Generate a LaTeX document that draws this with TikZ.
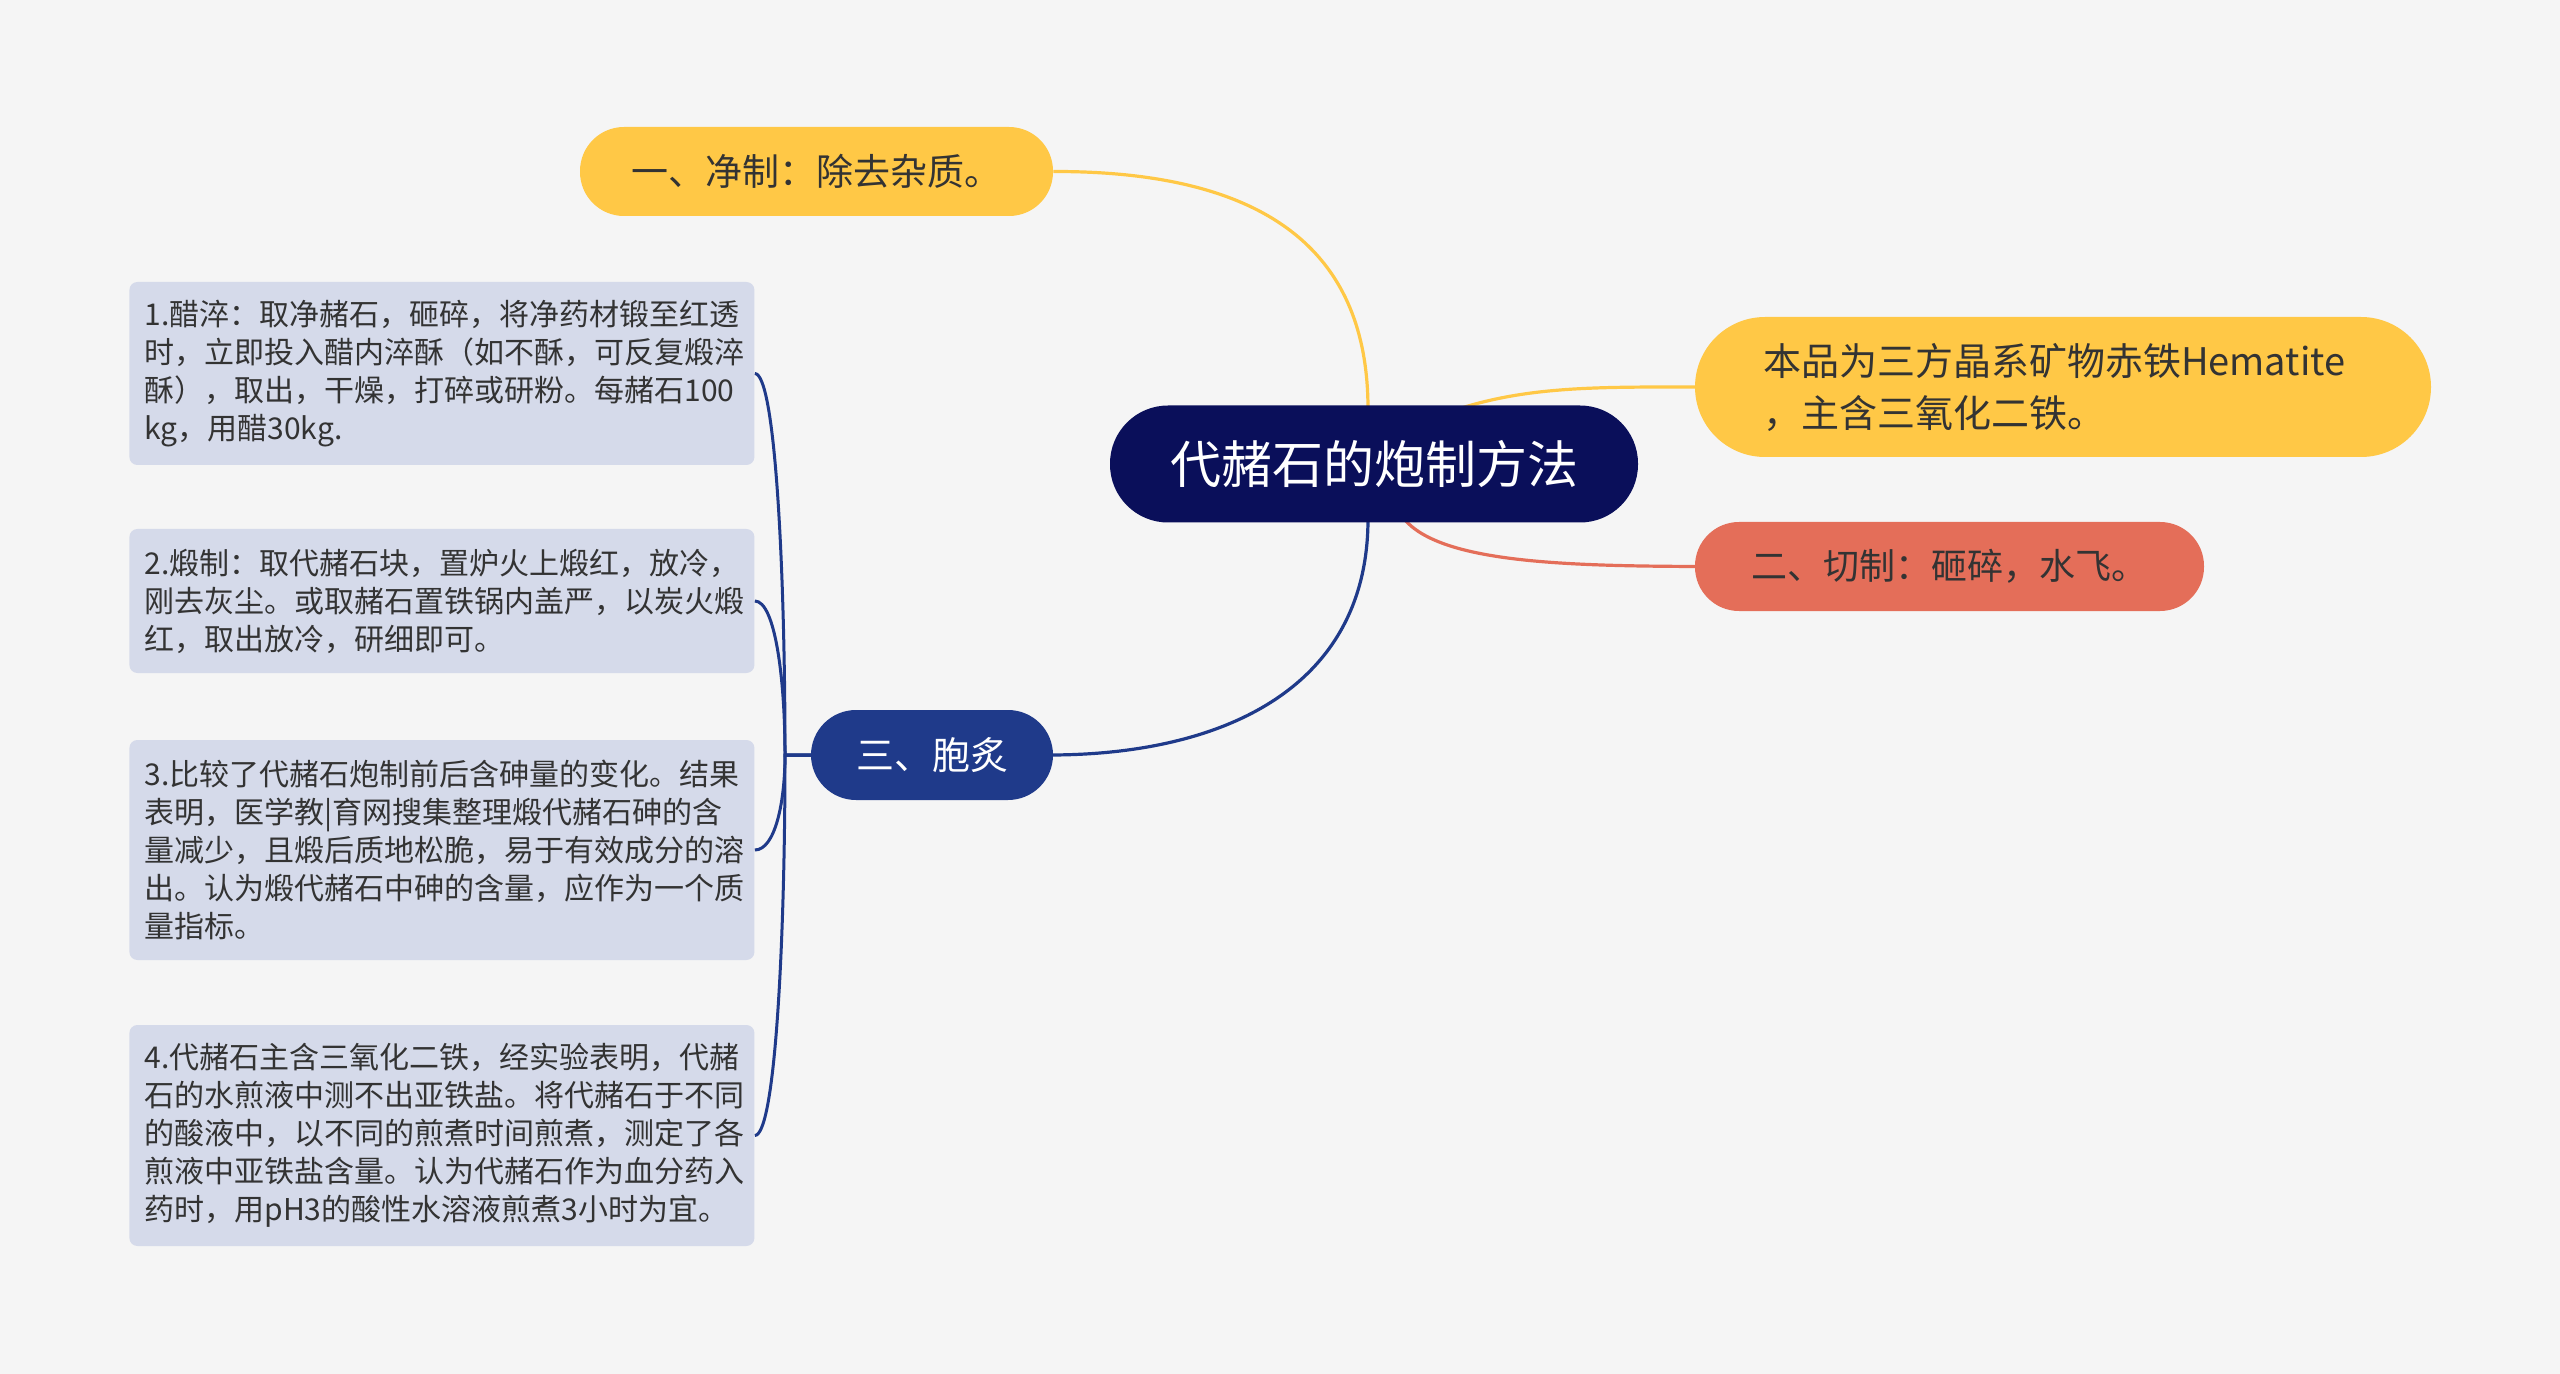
\documentclass[tikz,border=0pt]{standalone}
\usepackage{fontspec}
\setmainfont{Noto Sans CJK SC}
\usetikzlibrary{calc}
\definecolor{bgc}{HTML}{F5F5F5}
\definecolor{navy}{HTML}{0A0F5A}
\definecolor{yel}{HTML}{FFC846}
\definecolor{redc}{HTML}{E46E59}
\definecolor{blu}{HTML}{1F3A8A}
\definecolor{boxc}{HTML}{D5DAEA}
\definecolor{txt}{HTML}{333333}
\pgfdeclarelayer{bg}
\pgfsetlayers{bg,main}
\begin{document}
\begin{tikzpicture}[x=0.5pt,y=-0.5pt,
  pill/.style={rounded corners=#1, inner sep=0pt, align=center},
  leaf/.style={fill=boxc, rounded corners=4pt, minimum width=312.5pt, inner xsep=7.5pt, inner ysep=0pt,
    text width=297.5pt, align=left, text=txt, font=\fontsize{15pt}{19pt}\selectfont, anchor=west},
  conn/.style={line width=1.6pt}
]
\begin{pgfonlayer}{bg}
\fill[bgc] (0,0) rectangle (2560,1374);
\end{pgfonlayer}

\node[pill=29pt, fill=navy, text=white, minimum width=264pt, minimum height=58.5pt,
  font=\fontsize{25.5pt}{30pt}\selectfont] (center) at (1374,464) {代赭石的炮制方法};

\node[pill=22pt, fill=yel, text=txt, minimum width=236.5pt, minimum height=44.5pt,
  font=\fontsize{18.5pt}{22pt}\selectfont] (n1) at (816.5,171.5) {一、净制：除去杂质。};

\node[pill=35pt, fill=yel, text=txt, minimum width=368pt, minimum height=70pt, inner xsep=34pt,
  text width=300pt, align=left, font=\fontsize{19pt}{26pt}\selectfont] (nr1) at (2063,387)
  {本品为三方晶系矿物赤铁Hematite\\，主含三氧化二铁。};

\node[pill=22pt, fill=redc, text=txt, minimum width=254.5pt, minimum height=44.5pt,
  font=\fontsize{18pt}{22pt}\selectfont] (nr2) at (1949.5,566.5) {二、切制：砸碎，水飞。};

\node[pill=22.5pt, fill=blu, text=white, minimum width=121pt, minimum height=45pt,
  font=\fontsize{19pt}{22pt}\selectfont] (n3) at (932,755) {三、胞炙};

\node[leaf, minimum height=91.5pt] (b1) at (129,373.5)
  {1.醋淬：取净赭石，砸碎，将净药材锻至红透\\时，立即投入醋内淬酥（如不酥，可反复煅淬\\酥），取出，干燥，打碎或研粉。每赭石100\\kg，用醋30kg.};
\node[leaf, minimum height=72pt] (b2) at (129,601)
  {2.煅制：取代赭石块，置炉火上煅红，放冷，\\刚去灰尘。或取赭石置铁锅内盖严，以炭火煅\\红，取出放冷，研细即可。};
\node[leaf, minimum height=110pt] (b3) at (129,850)
  {3.比较了代赭石炮制前后含砷量的变化。结果\\表明，医学教|育网搜集整理煅代赭石砷的含\\量减少，且煅后质地松脆，易于有效成分的溶\\出。认为煅代赭石中砷的含量，应作为一个质\\量指标。};
\node[leaf, minimum height=110.5pt] (b4) at (129,1135.5)
  {4.代赭石主含三氧化二铁，经实验表明，代赭\\石的水煎液中测不出亚铁盐。将代赭石于不同\\的酸液中，以不同的煎煮时间煎煮，测定了各\\煎液中亚铁盐含量。认为代赭石作为血分药入\\药时，用pH3的酸性水溶液煎煮3小时为宜。};

\begin{pgfonlayer}{bg}
\draw[conn, yel] (n1.east) .. controls (1290,171) and (1368,270) .. ([xshift=-3pt,yshift=-2pt]center.north);
\draw[conn, yel] ([xshift=42pt,yshift=-2pt]center.north) .. controls (1530,386) and (1600,387) .. ([xshift=2pt]nr1.west);
\draw[conn, redc] ([xshift=15pt,yshift=2pt]center.south) .. controls (1440,562) and (1560,566) .. ([xshift=2pt]nr2.west);
\draw[conn, blu] ([xshift=-3pt,yshift=2pt]center.south) .. controls (1368,690) and (1220,755) .. ([xshift=-2pt]n3.east);
\foreach \b/\y in {b1/373.5,b2/601,b3/850,b4/1135.5}{
  \draw[line width=1.5pt, blu] ([xshift=2pt]n3.west) -- (785,755)
     .. controls (785,{(755+\y)/2}) and (775,\y) .. (\b.east);
}
\end{pgfonlayer}
\end{tikzpicture}
\end{document}
